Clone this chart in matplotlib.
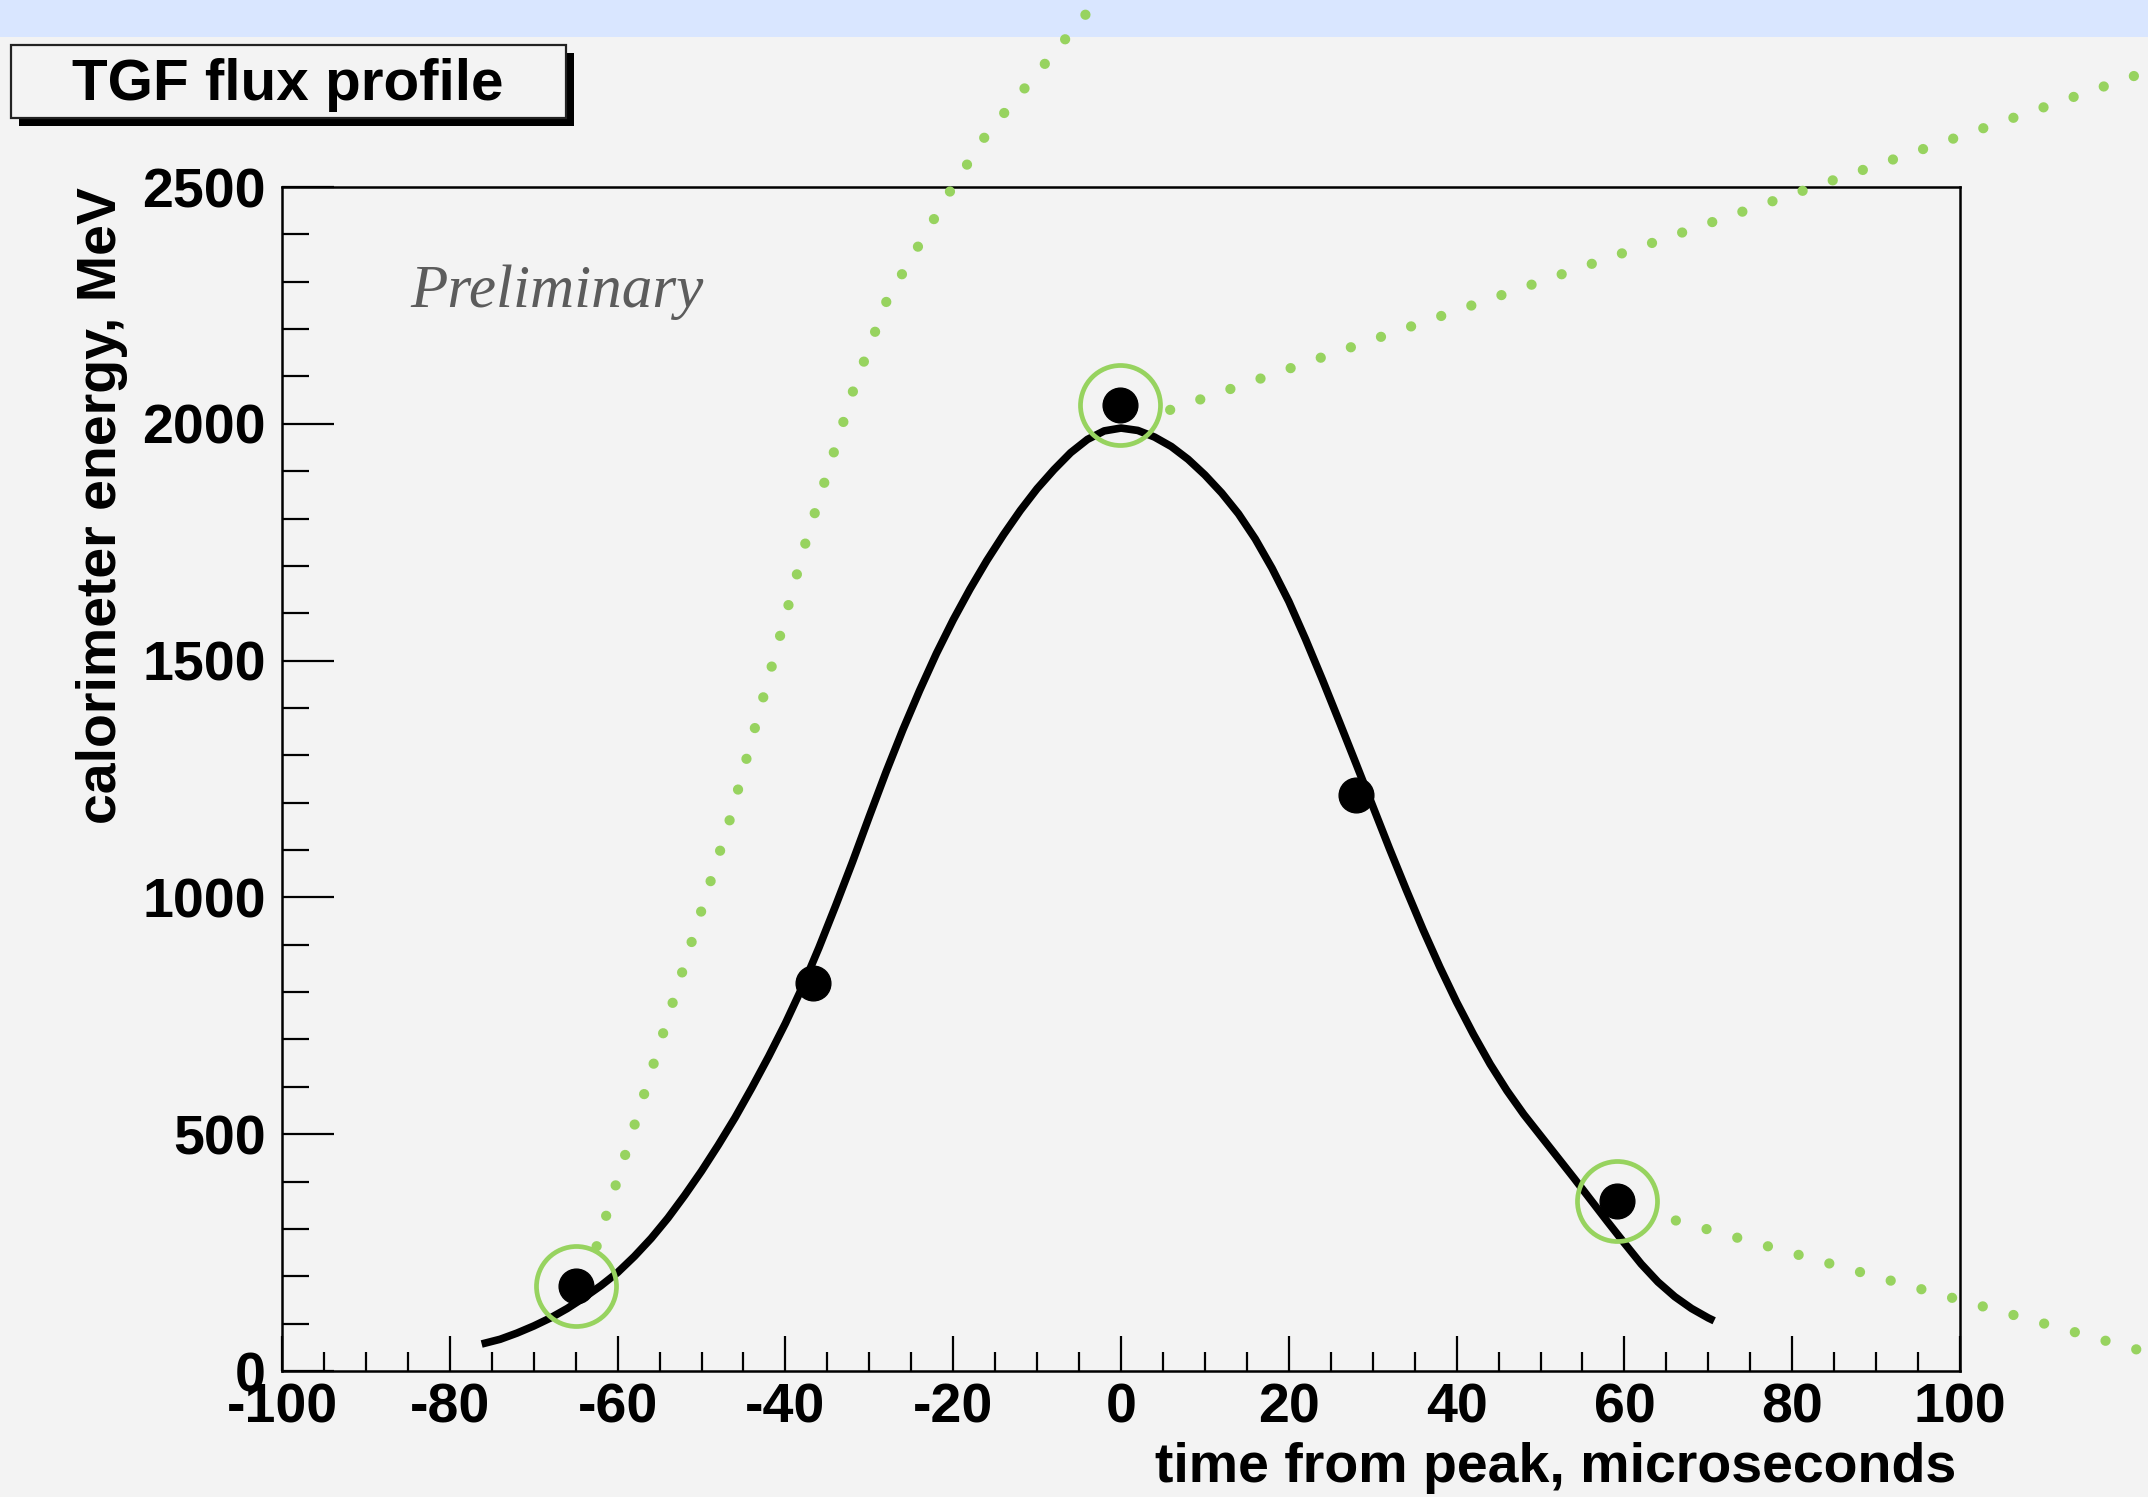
import matplotlib.pyplot as plt
from matplotlib.patches import Rectangle
from matplotlib.lines import Line2D
from matplotlib.transforms import IdentityTransform
from matplotlib.ticker import MultipleLocator

plt.rcParams['font.family'] = ['Liberation Sans', 'DejaVu Sans']
plt.rcParams['font.weight'] = 'bold'
plt.rcParams['axes.labelweight'] = 'bold'
plt.rcParams['axes.unicode_minus'] = False

W, H = 2148, 1497
BG = '#f3f3f3'
GREEN = '#97d35f'

# fitted profile
fit_t = [-76.2, -74, -72, -70, -68, -66, -64, -62, -60, -58,
         -56, -54, -52, -50, -48, -46, -44, -42, -40, -38,
         -36, -34, -32, -30, -28, -26, -24, -22, -20, -18,
         -16, -14, -12, -10, -8, -6, -4, -2, 0, 2,
         4, 6, 8, 10, 12, 14, 16, 18, 20, 22,
         24, 26, 28, 30, 32, 34, 36, 38, 40, 42,
         44, 46, 48, 50, 52, 54, 56, 58, 60, 62,
         64, 66, 68, 70, 70.7]
fit_e = [57, 67, 80, 95, 112, 132, 155, 180, 208, 242,
         280, 323, 371, 422, 477, 535, 598, 664, 734, 810,
         894, 983, 1075, 1171, 1265, 1354, 1437, 1515, 1586, 1651,
         1711, 1766, 1817, 1863, 1903, 1939, 1967, 1985, 1991, 1986,
         1972, 1952, 1925, 1892, 1854, 1810, 1757, 1695, 1625, 1545,
         1460, 1372, 1283, 1193, 1103, 1016, 932, 853, 779, 711,
         648, 592, 542, 497, 452, 407, 361, 315, 270, 226,
         188, 157, 132, 112, 106]

# measured points
pt_t = [-65.0, -36.7, -0.1, 28.0, 59.1]
pt_e = [179, 820, 2040, 1217, 360]
circled = [0, 2, 4]

fig = plt.figure(figsize=(W / 100, H / 100), dpi=100, facecolor=BG)

# light blue strip at the top
fig.add_artist(Rectangle((0, (H - 37) / H), 1, 37 / H, transform=fig.transFigure,
                         facecolor='#d9e6ff', edgecolor='none', zorder=0))

ax = fig.add_axes([282 / W, (H - 1371) / H, 1678 / W, 1184 / H])
ax.set_facecolor(BG)
ax.set_xlim(-100, 100)
ax.set_ylim(0, 2500)

ax.plot(fit_t, fit_e, color='black', lw=5.5, solid_joinstyle='round',
        solid_capstyle='butt', zorder=2)
ax.plot(pt_t, pt_e, ls='', marker='o', ms=25, color='black', zorder=3)
ax.plot([pt_t[i] for i in circled], [pt_e[i] for i in circled], ls='',
        marker='o', ms=57.6, mfc='none', mec=GREEN, mew=3.4, zorder=4, clip_on=False)

ax.xaxis.set_major_locator(MultipleLocator(20))
ax.xaxis.set_minor_locator(MultipleLocator(5))
ax.yaxis.set_major_locator(MultipleLocator(500))
ax.yaxis.set_minor_locator(MultipleLocator(100))
ax.tick_params(top=False, right=False, which='both', direction='in', width=1.6,
               color='black', labelsize=40)
ax.tick_params(axis='x', which='major', length=25, pad=8)
ax.tick_params(axis='x', which='minor', length=13.5)
ax.tick_params(axis='y', which='major', length=37.5, pad=11.5)
ax.tick_params(axis='y', which='minor', length=19.5)
for s in ax.spines.values():
    s.set_linewidth(1.8)

ax.set_xlabel('time from peak, microseconds', fontsize=40, fontweight='bold', loc='right')
ax.xaxis.set_label_coords(0.998, -0.060)
ax.set_ylabel('calorimeter energy, MeV', fontsize=40, fontweight='bold', loc='top')
ax.yaxis.set_label_coords(-0.0918, 1.0)

ax.text(0.0763, 0.8986, 'Preliminary', transform=ax.transAxes, fontsize=44,
        family='Liberation Serif', style='italic', weight='normal',
        color='#5c5c5c', va='baseline', ha='left')

# title pave with shadow
fig.add_artist(Rectangle((19 / W, (H - 126) / H), 555 / W, 73 / H,
                         transform=fig.transFigure, facecolor='black',
                         edgecolor='none', zorder=5))
fig.add_artist(Rectangle((11 / W, (H - 118) / H), 555 / W, 73 / H,
                         transform=fig.transFigure, facecolor=BG,
                         edgecolor='#222222', lw=1.6, zorder=6))
fig.text(288 / W, (H - 100) / H, 'TGF flux profile', fontsize=42,
         ha='center', va='baseline', zorder=7)

# green dotted guides leaving the circled points
def guide(idx, offset, rest):
    x0, y0 = ax.transData.transform((pt_t[idx], pt_e[idx]))
    xs = [x0 + offset[0]] + [p[0] for p in rest]
    ys = [y0 + offset[1]] + [H - p[1] for p in rest]
    fig.add_artist(Line2D(xs, ys, transform=IdentityTransform(), color=GREEN,
                          lw=7.4, linestyle=(0, (0.001, 3.1)),
                          dash_capstyle='round', zorder=8))

guide(0, (21, 40), [(730, 819), (806, 541), (854, 388), (887, 300),
                    (952, 188), (986, 135), (1048, 60), (1110, -15)])
guide(2, (50, -5), [(2160, 67)])
guide(4, (59, -20), [(2160, 1356)])

fig.savefig('out.png', dpi=100, facecolor=BG)
